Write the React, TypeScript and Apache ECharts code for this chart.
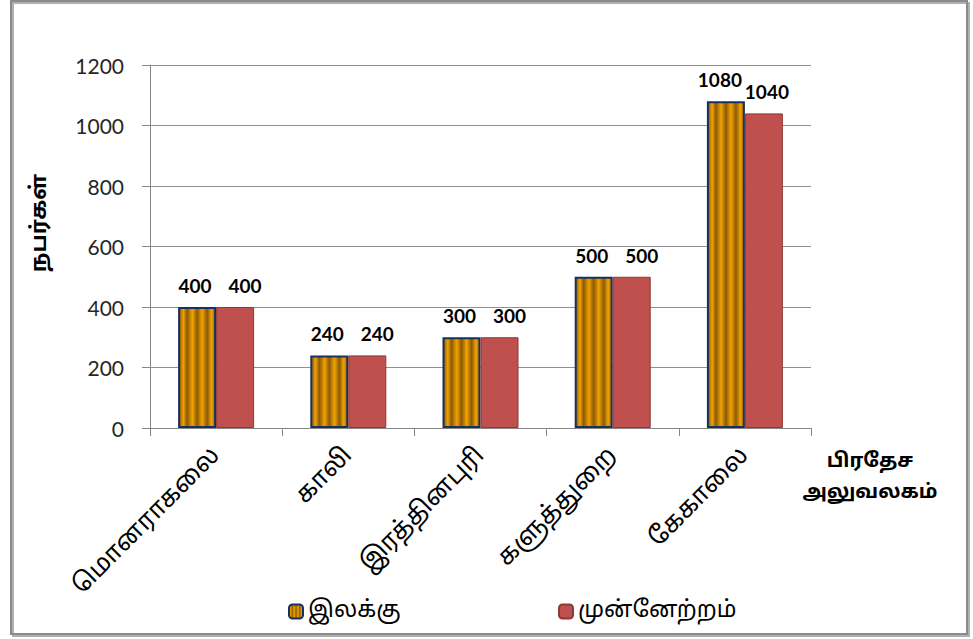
import React, { useEffect, useRef } from "react";
import * as echarts from "echarts";

const categories = ["மொனராகலை", "காலி", "இரத்தினபுரி", "களுத்துறை", "கேகாலை"];
const targetValues = [400, 240, 300, 500, 1080];
const progressValues = [400, 240, 300, 500, 1040];
const seriesNames = ["இலக்கு", "முன்னேற்றம்"];
const yAxisTitle = "நபர்கள்";
const xAxisTitle = "பிரதேச\nஅலுவலகம்";

const tamilFont = "'Noto Sans Tamil', Latha, 'Lohit Tamil', 'Noto Sans', 'DejaVu Sans', sans-serif";
const numFont = "Lato, 'Open Sans', 'Liberation Sans', sans-serif";

export default function App() {
  const ref = useRef<HTMLDivElement>(null);
  useEffect(() => {
    if (!ref.current) return;
    const chart = echarts.init(ref.current, null, { renderer: "svg" });
    const stripe = {
      type: "linear",
      x: 0,
      y: 0,
      x2: 1,
      y2: 0,
      colorStops: [
        { offset: 0, color: "#8a5a08" },
        { offset: 0.12, color: "#f2a200" },
        { offset: 0.22, color: "#8a5a08" },
        { offset: 0.37, color: "#f2a200" },
        { offset: 0.5, color: "#8a5a08" },
        { offset: 0.64, color: "#f2a200" },
        { offset: 0.78, color: "#8a5a08" },
        { offset: 0.9, color: "#f2a200" },
        { offset: 1, color: "#a06a08" },
      ],
    };
    const labelStyle = {
      show: true,
      position: "top",
      distance: 12,
      fontFamily: numFont,
      fontWeight: "bold",
      fontSize: 19,
      color: "#000",
    };
    const last = categories.length - 1;
    const targetData = targetValues.map((v, i) =>
      i === last ? { value: v, label: { offset: [-6, 0] } } : { value: v, label: { offset: [-2, 0] } }
    );
    const progressData = progressValues.map((v, i) =>
      i === last ? { value: v, label: { offset: [3, 0] } } : { value: v, label: { offset: [10, 0] } }
    );
    chart.setOption({
      animation: false,
      backgroundColor: "#fff",
      grid: { left: 150, right: 162, top: 65, bottom: 211 },
      xAxis: {
        type: "category",
        data: categories,
        axisLine: { lineStyle: { color: "#868686", width: 1 } },
        axisTick: { show: true, length: 8, lineStyle: { color: "#868686" } },
        axisLabel: {
          rotate: 45,
          margin: 24,
          fontFamily: tamilFont,
          fontSize: 25,
          color: "#000",
        },
      },
      yAxis: {
        type: "value",
        min: 0,
        max: 1200,
        interval: 200,
        axisLine: { show: true, lineStyle: { color: "#868686" } },
        axisTick: { show: true, length: 8, lineStyle: { color: "#868686" } },
        splitLine: { lineStyle: { color: "#909090" } },
        axisLabel: {
          fontFamily: numFont,
          fontSize: 21,
          color: "#262626",
          margin: 26,
          formatter: (v: number) => String(v),
        },
      },
      legend: [
        {
          left: 283,
          top: 595,
          itemWidth: 14,
          itemHeight: 14,
          data: [seriesNames[0]],
          textStyle: { fontFamily: tamilFont, fontSize: 23, color: "#000" },
        },
        {
          left: 553,
          top: 595,
          itemWidth: 14,
          itemHeight: 14,
          data: [seriesNames[1]],
          textStyle: { fontFamily: tamilFont, fontSize: 23, color: "#000" },
        },
      ],
      series: [
        {
          name: seriesNames[0],
          type: "bar",
          data: targetData,
          barWidth: 38,
          barGap: "0%",
          itemStyle: { color: stripe, borderColor: "#17305e", borderWidth: 2 },
          label: labelStyle,
        },
        {
          name: seriesNames[1],
          type: "bar",
          data: progressData,
          barWidth: 38,
          itemStyle: { color: "#c0504d", borderColor: "#8c3836", borderWidth: 1 },
          label: labelStyle,
        },
      ],
      graphic: [
        {
          type: "rect",
          shape: { x: 11, y: 1, width: 956, height: 633 },
          style: {
            fill: "none",
            stroke: "#8a8a8a",
            lineWidth: 2,
            shadowColor: "#b0b0b0",
            shadowOffsetX: 2,
            shadowOffsetY: 2,
            shadowBlur: 1,
          },
          silent: true,
        },
        {
          type: "text",
          x: 40,
          y: 223,
          rotation: Math.PI / 2,
          style: {
            text: yAxisTitle,
            fontFamily: tamilFont,
            fontWeight: "bold",
            fontSize: 22,
            fill: "#000",
            align: "center",
            verticalAlign: "middle",
          },
        },
        {
          type: "text",
          x: 870,
          y: 477,
          style: {
            text: xAxisTitle,
            fontFamily: tamilFont,
            fontWeight: "bold",
            fontSize: 20,
            lineHeight: 31,
            fill: "#000",
            align: "center",
            verticalAlign: "middle",
          },
        },
      ],
    });
    return () => chart.dispose();
  }, []);
  return (
    <div
      ref={ref}
      style={{ position: "fixed", left: 0, top: 0, width: 973, height: 639 }}
    />
  );
}
